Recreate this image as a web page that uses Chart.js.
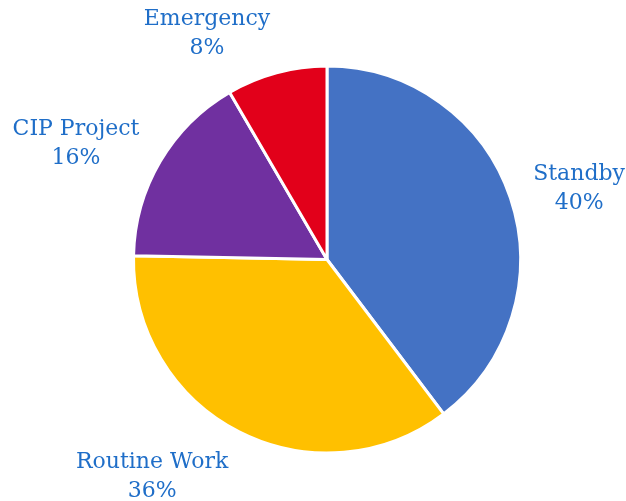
<!DOCTYPE html>
<html>
<head>
<meta charset="utf-8">
<script src="https://cdn.jsdelivr.net/npm/chart.js@4/dist/chart.umd.min.js"></script>
<style>
  html, body { margin: 0; padding: 0; background: #fff; }
  #wrap { width: 626px; height: 501px; }
</style>
</head>
<body>
<div id="wrap"><canvas id="pie"></canvas></div>
<script>
const labels = ['Standby', 'Routine Work', 'CIP Project', 'Emergency'];
const shares = [39.7, 35.6, 16.3, 8.4];
const colors = ['#4472C4', '#FFC000', '#7030A0', '#E2001A'];

// outside labels: name + rounded percent, pushed away from the arc along the slice middle
const outsideLabels = {
    id: 'outsideLabels',
    afterDatasetsDraw(chart) {
        const ctx = chart.ctx;
        const meta = chart.getDatasetMeta(0);
        const total = shares.reduce((a, b) => a + b, 0);
        const lineH = 29;
        const gapX = 24, gapY = 16;
        ctx.save();
        ctx.font = '22px "DejaVu Serif", serif';
        ctx.fillStyle = '#1F6EC8';
        ctx.textAlign = 'center';
        ctx.textBaseline = 'middle';
        meta.data.forEach(function(arc, i) {
            const mid = (arc.startAngle + arc.endAngle) / 2;
            const dx = Math.cos(mid), dy = Math.sin(mid);
            const ax = arc.x + dx * (arc.outerRadius + gapX);
            const ay = arc.y + dy * (arc.outerRadius + gapY);
            const lines = [labels[i], Math.round(shares[i] / total * 100) + '%'];
            const w = Math.max.apply(null, lines.map(t => ctx.measureText(t).width));
            const h = lineH * lines.length;
            const cx = ax + Math.sign(dx) * w / 2;
            const cy = ay + dy * h / 2 + 5;
            lines.forEach(function(t, k) {
                ctx.fillText(t, cx, cy - h / 2 + lineH / 2 + k * lineH);
            });
        });
        ctx.restore();
    }
};

new Chart(document.getElementById('pie'), {
    type: 'pie',
    data: {
        labels: labels,
        datasets: [{
            data: shares,
            backgroundColor: colors,
            borderColor: '#ffffff',
            borderWidth: 3
        }]
    },
    options: {
        responsive: true,
        maintainAspectRatio: false,
        animation: false,
        layout: { padding: { top: 64, bottom: 46, left: 132, right: 104 } },
        plugins: {
            legend: { display: false },
            tooltip: { enabled: false }
        }
    },
    plugins: [outsideLabels]
});
</script>
</body>
</html>
